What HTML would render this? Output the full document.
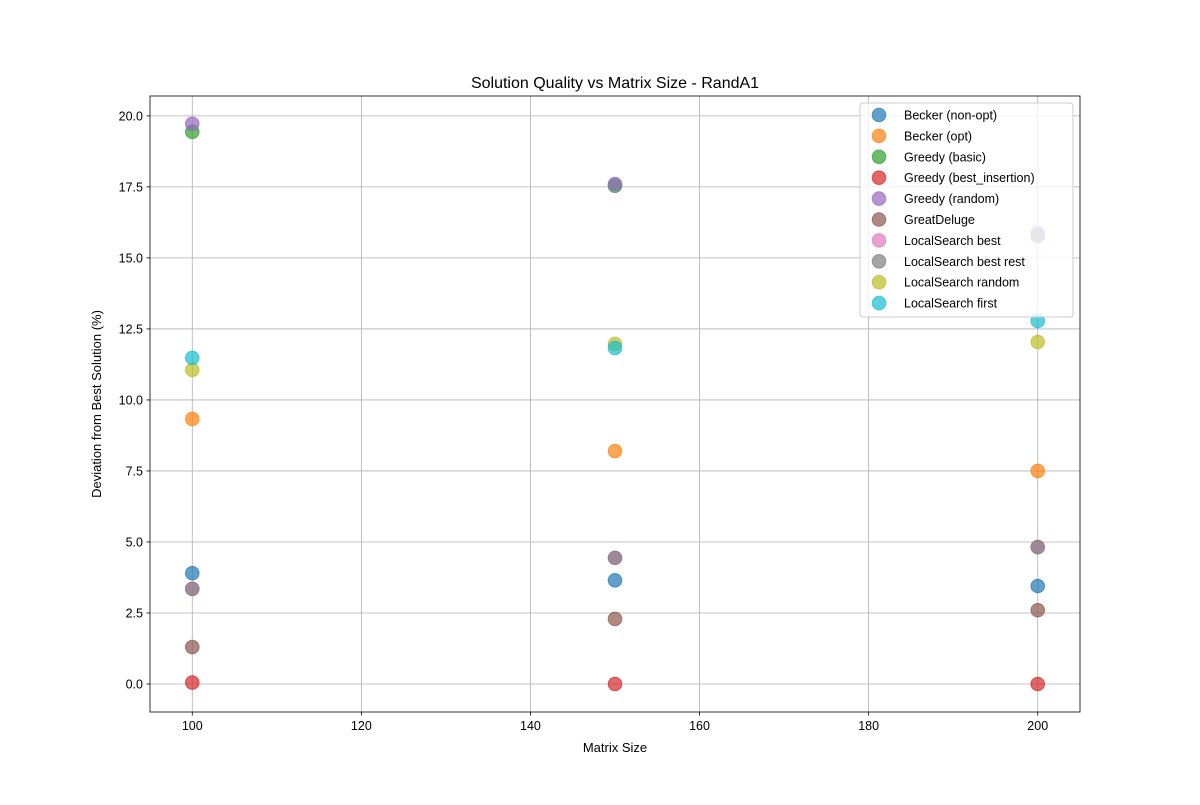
<!DOCTYPE html>
<html><head><meta charset="utf-8"><style>
body{margin:0;background:#fff;font-family:"Liberation Sans","DejaVu Sans",sans-serif}
</style></head><body>
<svg id="chart" width="1200" height="800" xmlns="http://www.w3.org/2000/svg"></svg>
<script>
const sizes=[100,150,200];
const seriesNames=["Becker (non-opt)","Becker (opt)","Greedy (basic)","Greedy (best_insertion)","Greedy (random)","GreatDeluge","LocalSearch best","LocalSearch best rest","LocalSearch random","LocalSearch first"];
const beckerNonOpt=[3.9,3.65,3.45];
const beckerOpt=[9.33,8.2,7.5];
const greedyBasic=[19.44,17.54,15.77];
const greedyBestIns=[0.05,0.0,0.0];
const greedyRandom=[19.72,17.6,15.88];
const greatDeluge=[1.3,2.29,2.6];
const lsBest=[3.35,4.44,4.82];
const lsBestRest=[3.35,4.44,4.82];
const lsRandom=[11.06,11.97,12.04];
const lsFirst=[11.48,11.83,12.78];
const xTicks=[100,120,140,160,180,200];
const yTicks=[0,2.5,5,7.5,10,12.5,15,17.5,20];
const colors=["#1f77b4","#ff7f0e","#2ca02c","#d62728","#9467bd","#8c564b","#e377c2","#7f7f7f","#bcbd22","#17becf"];
const allSeries=[beckerNonOpt,beckerOpt,greedyBasic,greedyBestIns,greedyRandom,greatDeluge,lsBest,lsBestRest,lsRandom,lsFirst];

const svg=document.getElementById('chart');
const NS="http://www.w3.org/2000/svg";
const L=150,R=1080,T=96,B=712;
const xMin=95,xMax=205,yMin=-0.986,yMax=20.7;
const xs=v=>L+(v-xMin)/(xMax-xMin)*(R-L);
const ys=v=>B-(v-yMin)/(yMax-yMin)*(B-T);
function mk(tag,attrs,parent){const e=document.createElementNS(NS,tag);for(const k in attrs)e.setAttribute(k,attrs[k]);(parent||svg).appendChild(e);return e;}

const grid=mk('g',{});


xTicks.forEach(t=>{
  mk('line',{x1:xs(t),x2:xs(t),y1:T,y2:B,stroke:'#b0b0b0','stroke-width':0.8},grid);
  mk('line',{x1:xs(t),x2:xs(t),y1:B,y2:B+3.5,stroke:'#000','stroke-width':0.8},grid);
  const tx=mk('text',{x:xs(t),y:B+18,'text-anchor':'middle','font-size':12.5},grid);tx.textContent=t;
  
  
});
yTicks.forEach(t=>{
  mk('line',{x1:L,x2:R,y1:ys(t),y2:ys(t),stroke:'#b0b0b0','stroke-width':0.8},grid);
  mk('line',{x1:L-3.5,x2:L,y1:ys(t),y2:ys(t),stroke:'#000','stroke-width':0.8},grid);
  const tx=mk('text',{x:L-7,y:ys(t)+4.5,'text-anchor':'end','font-size':12.5},grid);tx.textContent=t.toFixed(1);
  
  
});

allSeries.forEach((vals,i)=>{
  const g=mk('g',{});
  
  
  vals.forEach((v,j)=>{
    const c=mk('circle',{cx:xs(sizes[j]),cy:ys(v),r:6.8,fill:colors[i],'fill-opacity':0.7,stroke:colors[i],'stroke-opacity':0.7,'stroke-width':1},g);
    
    
  });
});

const frame=mk('rect',{x:L,y:T,width:R-L,height:B-T,fill:'none',stroke:'#000','stroke-width':0.8});



const title=mk('text',{x:(L+R)/2,y:88,'text-anchor':'middle','font-size':16});title.textContent="Solution Quality vs Matrix Size - RandA1";


const xl=mk('text',{x:(L+R)/2,y:752,'text-anchor':'middle','font-size':13});xl.textContent="Matrix Size";


const yl=mk('text',{x:0,y:0,'text-anchor':'middle','font-size':13,transform:`translate(101,${(T+B)/2}) rotate(-90)`});yl.textContent="Deviation from Best Solution (%)";



const leg=mk('g',{});


mk('rect',{x:860,y:103,width:213,height:214,rx:3,fill:'#fff','fill-opacity':0.8,stroke:'#ccc','stroke-width':1},leg);
seriesNames.forEach((n,i)=>{
  const y=115+i*20.9;
  const e=mk('g',{},leg);
  
  
  mk('circle',{cx:879,cy:y,r:6.8,fill:colors[i],'fill-opacity':0.7,stroke:colors[i],'stroke-opacity':0.7,'stroke-width':1},e);
  const t=mk('text',{x:904,y:y+4.5,'font-size':12.5},e);t.textContent=n;
});
</script>
</body></html>
